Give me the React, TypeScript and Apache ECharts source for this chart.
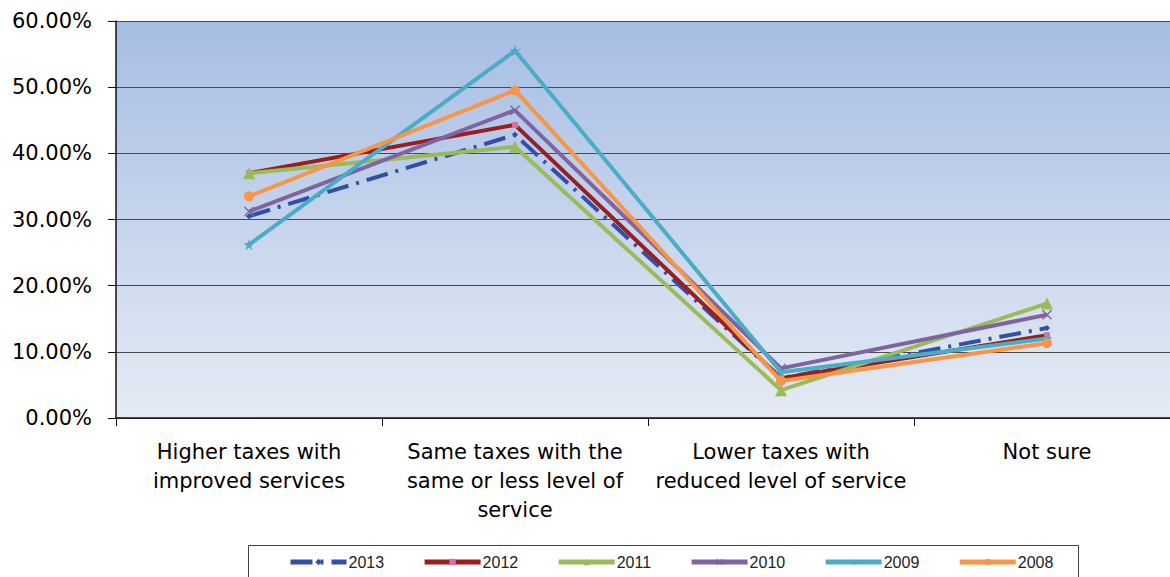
import React, { useEffect, useRef } from "react";
import * as echarts from "echarts";

const categories = [
  "Higher taxes with\nimproved services",
  "Same taxes with the\nsame or less level of\nservice",
  "Lower taxes with\nreduced level of service",
  "Not sure",
];
const years = ["2013", "2012", "2011", "2010", "2009", "2008"];
const v2013 = [30.5, 42.8, 6.0, 13.6];
const v2012 = [37.0, 44.3, 6.0, 12.5];
const v2011 = [37.0, 41.0, 4.2, 17.3];
const v2010 = [31.2, 46.5, 7.5, 15.6];
const v2009 = [26.2, 55.5, 6.9, 12.0];
const v2008 = [33.5, 49.5, 5.6, 11.3];
const yTicks = [0, 10, 20, 30, 40, 50, 60];

const colors = ["#2f50a6", "#9a1d20", "#9bbb59", "#8064a2", "#4bacc6", "#f79646"];
const markerColors = ["#2f50a6", "#d76fa6", "#9bbb59", "#8064a2", "#4bacc6", "#f79646"];
const symbols = [
  "diamond",
  "rect",
  "triangle",
  "path://M0,1L1,0L5,4L9,0L10,1L6,5L10,9L9,10L5,6L1,10L0,9L4,5Z",
  "path://M5,0L6.2,3.6L10,3.8L7,6.2L8.1,10L5,7.7L1.9,10L3,6.2L0,3.8L3.8,3.6Z",
  "circle",
];
const symbolSizes = [6, 6, 12, 10, 11, 10];
const allValues = [v2013, v2012, v2011, v2010, v2009, v2008];

export default function App() {
  const ref = useRef<HTMLDivElement>(null);
  useEffect(() => {
    document.body.style.margin = "0";
    document.body.style.overflow = "hidden";
    document.documentElement.style.overflow = "hidden";
    const chart = echarts.init(ref.current!, null, { renderer: "svg" });
    chart.setOption({
      animation: false,
      backgroundColor: "#ffffff",
      grid: {
        left: 116,
        top: 21,
        right: 0,
        bottom: 159,
        show: true,
        borderWidth: 0,
        backgroundColor: {
          type: "linear",
          x: 0,
          y: 0,
          x2: 0,
          y2: 1,
          colorStops: [
            { offset: 0, color: "#a6bde3" },
            { offset: 1, color: "#e5ebf5" },
          ],
        },
      },
      legend: {
        left: 288,
        top: 554,
        itemWidth: 56,
        itemHeight: 8,
        itemGap: 38,
        padding: 0,
        lineStyle: { width: 5 },
        textStyle: {
          fontFamily: "Liberation Sans Narrow, Liberation Sans, Arial",
          fontSize: 16,
          color: "#222",
          padding: [0, 0, 0, -3],
        },
        data: years,
      },
      graphic: [
        {
          type: "rect",
          shape: { x: 248.5, y: 545.5, width: 830, height: 40 },
          style: { fill: "none", stroke: "#444", lineWidth: 1 },
          silent: true,
        },
      ],
      xAxis: {
        type: "category",
        data: categories,
        boundaryGap: true,
        axisLine: { lineStyle: { color: "#111", width: 1.5 } },
        axisTick: { show: true, length: 8, lineStyle: { color: "#111" } },
        axisLabel: {
          fontFamily: "DejaVu Sans, Liberation Sans, Arial",
          fontSize: 21,
          lineHeight: 29,
          color: "#000",
          margin: 19,
          interval: 0,
        },
      },
      yAxis: {
        type: "value",
        min: 0,
        max: 60,
        interval: 10,
        axisLine: { show: true, lineStyle: { color: "#111", width: 1.5 } },
        axisTick: { show: true, length: 8, lineStyle: { color: "#111" } },
        splitLine: { lineStyle: { color: "#4a4a4a", width: 1 } },
        axisLabel: {
          fontFamily: "DejaVu Sans, Liberation Sans, Arial",
          fontSize: 21,
          color: "#000",
          margin: 24,
          formatter: (v: number) => (yTicks.includes(v) ? v.toFixed(2) + "%" : ""),
        },
      },
      series: years.map((y, i) => ({
        name: y,
        type: "line",
        data: allValues[i],
        symbol: symbols[i],
        symbolSize: symbolSizes[i],
        showSymbol: true,
        itemStyle: { color: markerColors[i], borderWidth: 0 },
        lineStyle: {
          color: colors[i],
          width: 4,
          type: i === 0 ? [22, 8, 3, 8] : "solid",
        },
        z: 2 + i,
      })),
    });
    return () => chart.dispose();
  }, []);
  return <div ref={ref} style={{ width: 1180, height: 577 }} />;
}
